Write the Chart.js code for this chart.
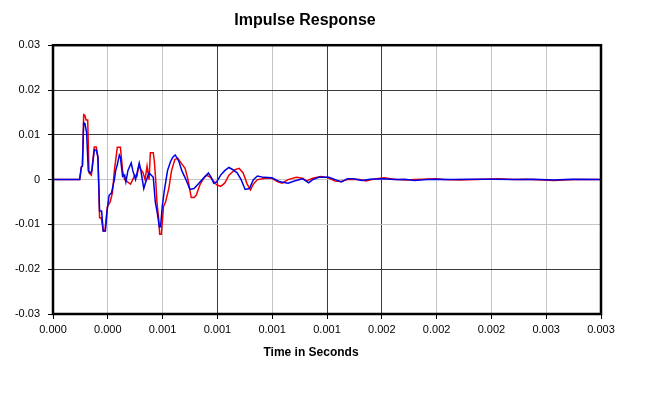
<!DOCTYPE html>
<html>
<head>
<meta charset="utf-8">
<title>Impulse Response</title>
<script src="https://cdn.jsdelivr.net/npm/chart.js@4"></script>
<style>
  body { margin: 0; background: #fff; }
  canvas { display: block; }
</style>
</head>
<body>
<canvas id="impulseChart" width="645" height="393"></canvas>
<script>
// Sample times in microseconds
const blueTimeUs = [0, 146, 155, 161, 168, 175, 184, 193, 204, 213,
    226, 237, 246, 255, 266, 275, 287, 296, 307, 320,
    336, 343, 352, 363, 369, 381, 392, 399, 410, 428,
    437, 452, 472, 481, 497, 508, 526, 549, 560, 571,
    582, 589, 598, 611, 627, 643, 656, 669, 690, 705,
    728, 750, 772, 795, 817, 840, 851, 866, 880, 896,
    918, 940, 963, 985, 1008, 1030, 1052, 1075, 1097, 1119,
    1153, 1198, 1243, 1287, 1321, 1366, 1399, 1422, 1455, 1511,
    1545, 1578, 1612, 1646, 1690, 1735, 1802, 1869, 1925, 1981,
    2049, 2093, 2183, 2272, 2407, 2541, 2631, 2743, 2832, 3000];
const blueValues = [0, 0, 0.0028, 0.003, 0.0127, 0.0125, 0.0105, 0.002, 0.0015, 0.002,
    0.0066, 0.0066, 0.005, -0.007, -0.007, -0.0115, -0.0115, -0.007, -0.0035, -0.003,
    0, 0.002, 0.0033, 0.0055, 0.005, 0.0007, 0.001, -0.0005, 0.002, 0.0037,
    0.002, 0, 0.0037, 0.002, -0.002, -0.0005, 0.0015, 0.0005, -0.005, -0.0075,
    -0.0105, -0.0105, -0.006, -0.002, 0.002, 0.004, 0.005, 0.0055, 0.004, 0.002,
    0, -0.0022, -0.002, -0.001, 0, 0.001, 0.0015, 0.0005, -0.0008, -0.0005,
    0.001, 0.002, 0.0027, 0.0022, 0.0015, 0, -0.0022, -0.002, 0, 0.0008,
    0.0005, 0.0004, -0.0005, -0.0008, -0.0003, 0.0002, -0.0007, 0, 0.0005, 0.0005,
    0, -0.0005, 0.0002, 0.0002, -0.0002, 0.0001, 0.0002, 0, 0.0001, -0.0002,
    0, 0.0001, 0, 0.0001, 0.0001, 0, 0.0001, -0.0001, 0.0001, 0];

const redTimeUs = [0, 146, 155, 161, 168, 175, 181, 190, 197, 210,
    226, 237, 246, 255, 264, 275, 284, 298, 313, 325,
    336, 352, 369, 381, 392, 408, 425, 448, 459, 470,
    493, 504, 515, 526, 533, 549, 555, 562, 569, 578,
    584, 593, 605, 616, 634, 649, 667, 683, 705, 723,
    739, 757, 772, 784, 806, 828, 840, 862, 896, 918,
    940, 963, 996, 1019, 1041, 1063, 1081, 1097, 1119, 1164,
    1198, 1231, 1254, 1287, 1332, 1366, 1388, 1422, 1466, 1500,
    1545, 1578, 1612, 1646, 1679, 1713, 1746, 1791, 1813, 1847,
    1881, 1937, 1981, 2093, 2138, 2228, 2317, 2440, 2519, 2586,
    2743, 2855, 3000];
const redValues = [0, 0, 0.0028, 0.003, 0.0145, 0.0143, 0.0133, 0.0133, 0.0015, 0.001,
    0.0073, 0.0073, 0.005, -0.0085, -0.0085, -0.0115, -0.0115, -0.006, -0.005, -0.003,
    0.002, 0.0072, 0.0072, 0.002, 0, -0.0005, -0.001, 0.001, 0.0007, 0.003,
    0.0015, 0, 0.003, 0, 0.006, 0.006, 0.004, 0, -0.005, -0.0085,
    -0.0122, -0.0122, -0.006, -0.005, -0.002, 0.002, 0.0045, 0.0048, 0.0035, 0.0025,
    0, -0.004, -0.004, -0.0035, -0.001, 0.0005, 0.001, 0.0005, -0.0012, -0.0015,
    -0.0008, 0.001, 0.0022, 0.0025, 0.0015, -0.001, -0.0023, -0.001, 0, 0.0003,
    0.0003, -0.0005, -0.0008, 0, 0.0005, 0.0003, -0.0003, 0.0003, 0.0007, 0.0005,
    -0.0003, -0.0004, 0, 0.0001, 0, -0.0003, 0, 0.0003, 0.0004, 0.0002,
    0, -0.0001, 0, 0.0002, 0, -0.0001, 0, 0.0002, 0, 0.0001,
    -0.0002, 0, 0];

// Tick labels as the original chart printed them (rounded to 3 places)
const xTickLabels = ['0.000', '0.000', '0.001', '0.001', '0.001', '0.001',
    '0.002', '0.002', '0.002', '0.003', '0.003'];
const yTickLabels = ['-0.03', '-0.02', '-0.01', '0', '0.01', '0.02', '0.03'];

function toPoints(times, values) {
    return times.map(function(t, i) { return { x: t, y: values[i] }; });
}

// grid lines that look darker in the original
const darkX = [3, 5, 6];
const darkY = [1, 4, 5];

// thick black frame around the plot + x axis title
const framePlugin = {
    id: 'frame',
    afterDraw: function(chart) {
        const ctx = chart.ctx;
        const a = chart.chartArea;
        ctx.save();
        ctx.strokeStyle = '#000';
        ctx.lineWidth = 2.5;
        ctx.strokeRect(a.left, a.top, a.right - a.left, a.bottom - a.top);
        ctx.fillStyle = '#000';
        ctx.font = 'bold 12px "Liberation Sans", Arial, sans-serif';
        ctx.textAlign = 'center';
        ctx.textBaseline = 'middle';
        ctx.fillText('Time in Seconds', 311, 353);
        ctx.restore();
    }
};

document.addEventListener('DOMContentLoaded', function() {
    const ctx = document.getElementById('impulseChart').getContext('2d');

    new Chart(ctx, {
        type: 'line',
        data: {
            datasets: [
                {
                    label: 'Blue',
                    data: toPoints(blueTimeUs, blueValues),
                    borderColor: '#0000e6',
                    borderWidth: 1.5,
                    pointRadius: 0,
                    tension: 0
                },
                {
                    label: 'Red',
                    data: toPoints(redTimeUs, redValues),
                    borderColor: '#f00000',
                    borderWidth: 1.5,
                    pointRadius: 0,
                    tension: 0
                }
            ]
        },
        options: {
            responsive: false,
            animation: false,
            layout: { padding: { left: 9, right: 44, top: 0, bottom: 0 } },
            plugins: {
                legend: { display: false },
                tooltip: { enabled: false },
                title: {
                    display: true,
                    text: 'Impulse Response',
                    color: '#000',
                    font: { family: '"Liberation Sans", Arial, sans-serif', size: 16, weight: 'bold' },
                    padding: { top: 11, bottom: 15 }
                }
            },
            scales: {
                x: {
                    type: 'linear',
                    min: 0,
                    max: 3000,
                    afterFit: function(scale) { scale.height = 79; },
                    ticks: {
                        stepSize: 300,
                        autoSkip: false,
                        maxRotation: 0,
                        padding: 4,
                        color: '#000',
                        font: { family: '"Liberation Sans", Arial, sans-serif', size: 11 },
                        callback: function(v, i) { return xTickLabels[i]; }
                    },
                    grid: {
                        color: function(c) { return darkX.includes(c.index) ? '#3a3a3a' : '#c4c4c4'; },
                        tickColor: '#000',
                        tickLength: 5
                    },
                    border: { display: false }
                },
                y: {
                    min: -0.03,
                    max: 0.03,
                    afterFit: function(scale) { scale.width = 44; },
                    ticks: {
                        stepSize: 0.01,
                        padding: 8,
                        color: '#000',
                        font: { family: '"Liberation Sans", Arial, sans-serif', size: 11 },
                        callback: function(v, i) { return yTickLabels[i]; }
                    },
                    grid: {
                        color: function(c) { return darkY.includes(c.index) ? '#3a3a3a' : '#c4c4c4'; },
                        tickColor: '#000',
                        tickLength: 5
                    },
                    border: { display: false }
                }
            }
        },
        plugins: [framePlugin]
    });
});
</script>
</body>
</html>
